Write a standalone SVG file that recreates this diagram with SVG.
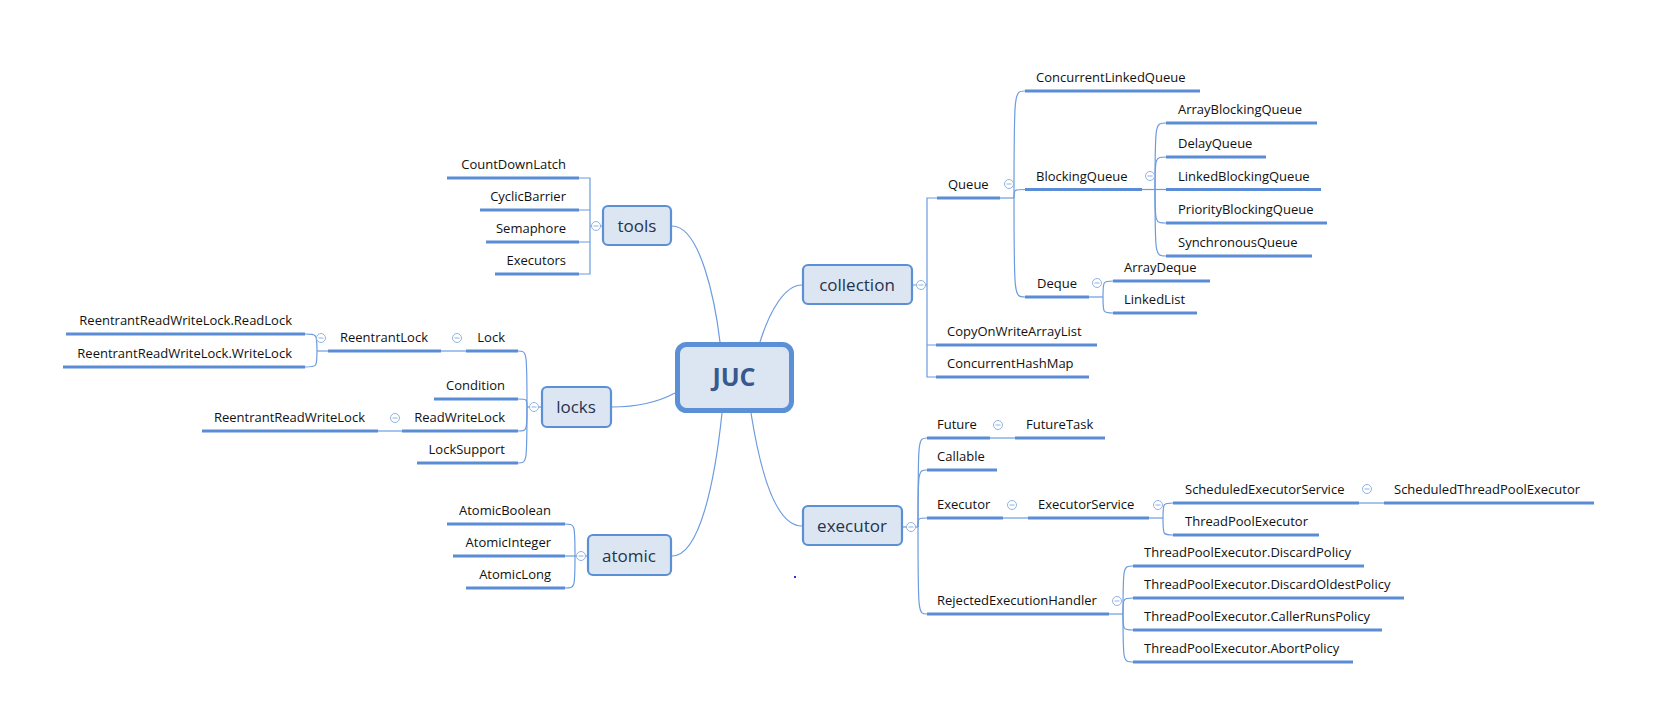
<svg xmlns="http://www.w3.org/2000/svg" xmlns:xlink="http://www.w3.org/1999/xlink" width="1665" height="712" viewBox="0 0 1665 712">
<defs>
<style>
.u{stroke:#5a8dd6;stroke-width:3;fill:none}
.cn path{stroke:#6b9be0;stroke-width:1.2;fill:none}
.t{font-family:"Open Sans","Liberation Sans",sans-serif;font-size:13px;fill:#111}
.e{text-anchor:end}
.box{fill:#dce6f2;stroke:#5b8fd6;stroke-width:2.2}
.bt{font-family:"Open Sans","Liberation Sans",sans-serif;font-size:17px;fill:#25334d;text-anchor:middle}
</style>
<g id="col"><circle r="4.5" fill="#fff" stroke="#8fb3e2" stroke-width="1"/><line x1="-2.5" x2="2.5" y1="0" y2="0" stroke="#8fb3e2" stroke-width="1"/></g>
</defs>
<rect width="1665" height="712" fill="#fff"/>

<g id="connectors" class="cn">
<!-- root -->
<path d="M672 226 C700 226 715 300 720 342"/>
<path d="M760 342 C770 310 785 285 802 285"/>
<path d="M612 407 C640 407 660 401 675 393"/>
<path d="M722 413 C715 480 700 556 672 556"/>
<path d="M751 413 C760 470 775 526 802 526"/>
<!-- tools -->
<path d="M602 226 H590 M579 178 H590 V274 H579 M579 210 H590 M579 242 H590"/>
<!-- locks -->
<path d="M541 407 H527"/>
<path d="M527 407 C527 351 527 351 518 351"/>
<path d="M527 407 C527 399 527 399 518 399"/>
<path d="M527 407 C527 431 527 431 518 431"/>
<path d="M527 407 C527 463 527 463 518 463"/>
<path d="M466 351 H441"/>
<path d="M328 351 H317"/>
<path d="M317 351 C317 334 317 334 305 334"/>
<path d="M317 351 C317 367 317 367 305 367"/>
<path d="M402 431 H378"/>
<!-- atomic -->
<path d="M587 556 H575"/>
<path d="M575 556 C575 524 575 524 565 524"/>
<path d="M575 556 H565"/>
<path d="M575 556 C575 588 575 588 565 588"/>
<!-- collection -->
<path d="M913 285 H927 M937 198 H927 V377 H936 M927 345 H936"/>
<path d="M1000 198 H1014"/>
<path d="M1014 198 C1014 91 1014 91 1025 91"/>
<path d="M1014 198 C1014 189.5 1014 189.5 1025 189.5"/>
<path d="M1014 198 C1014 297 1014 297 1025 297"/>
<path d="M1142 189.5 H1155"/>
<path d="M1155 189.5 C1155 123 1155 123 1166 123"/>
<path d="M1155 189.5 C1155 157 1155 157 1166 157"/>
<path d="M1155 189.5 H1166"/>
<path d="M1155 189.5 C1155 223 1155 223 1166 223"/>
<path d="M1155 189.5 C1155 256 1155 256 1166 256"/>
<path d="M1089 297 H1103"/>
<path d="M1103 297 C1103 281 1103 281 1113 281"/>
<path d="M1103 297 C1103 313 1103 313 1113 313"/>
<!-- executor -->
<path d="M903 527 H918"/>
<path d="M918 527 C918 438 918 438 927 438"/>
<path d="M918 527 C918 470 918 470 927 470"/>
<path d="M918 527 C918 518 918 518 927 518"/>
<path d="M918 527 C918 614 918 614 927 614"/>
<path d="M990 438 H1015"/>
<path d="M1003 518 H1028"/>
<path d="M1149 518 H1163"/>
<path d="M1163 518 C1163 503 1163 503 1173 503"/>
<path d="M1163 518 C1163 535 1163 535 1173 535"/>
<path d="M1359 503 H1384"/>
<path d="M1109 614 H1123"/>
<path d="M1123 614 C1123 566 1123 566 1133 566"/>
<path d="M1123 614 C1123 598 1123 598 1133 598"/>
<path d="M1123 614 C1123 630 1123 630 1133 630"/>
<path d="M1123 614 C1123 662 1123 662 1133 662"/>
</g>

<g id="JUC"><rect x="677.5" y="344.5" width="114" height="66" rx="9" fill="#dce6f2" stroke="#5b8fd6" stroke-width="5"/><text x="734" y="386" font-family="'Open Sans','Liberation Sans',sans-serif" font-size="25" font-weight="bold" fill="#37598e" text-anchor="middle">JUC</text></g>

<g id="tools"><rect class="box" x="603" y="206" width="68" height="39" rx="5"/><text class="bt" x="637" y="232">tools</text><use xlink:href="#col" x="596" y="226"/></g>
<g id="locks"><rect class="box" x="542" y="387" width="69" height="40" rx="5"/><text class="bt" x="576" y="413">locks</text><use xlink:href="#col" x="534" y="407"/></g>
<g id="atomic"><rect class="box" x="588" y="535" width="83" height="40" rx="5"/><text class="bt" x="629" y="562">atomic</text><use xlink:href="#col" x="581" y="556"/></g>
<g id="collection"><rect class="box" x="803" y="265" width="109" height="39" rx="5"/><text class="bt" x="857" y="291">collection</text><use xlink:href="#col" x="921" y="285"/></g>
<g id="executor"><rect class="box" x="803" y="506" width="99" height="39" rx="5"/><text class="bt" x="852" y="532">executor</text><use xlink:href="#col" x="911" y="527"/></g>

<!-- tools children -->
<g id="CountDownLatch"><line class="u" x1="447" x2="579" y1="178" y2="178"/><text class="t e" x="566" y="169">CountDownLatch</text></g>
<g id="CyclicBarrier"><line class="u" x1="480" x2="579" y1="210" y2="210"/><text class="t e" x="566" y="201">CyclicBarrier</text></g>
<g id="Semaphore"><line class="u" x1="486" x2="579" y1="242" y2="242"/><text class="t e" x="566" y="233">Semaphore</text></g>
<g id="Executors"><line class="u" x1="495" x2="579" y1="274" y2="274"/><text class="t e" x="566" y="265">Executors</text></g>

<!-- locks children -->
<g id="Lock"><line class="u" x1="466" x2="518" y1="351" y2="351"/><text class="t e" x="505" y="342">Lock</text><use xlink:href="#col" x="457" y="338"/></g>
<g id="ReentrantLock"><line class="u" x1="328" x2="441" y1="351" y2="351"/><text class="t e" x="428" y="342">ReentrantLock</text><use xlink:href="#col" x="321" y="338"/></g>
<g id="ReadLock"><line class="u" x1="66" x2="305" y1="334" y2="334"/><text class="t e" x="292" y="325">ReentrantReadWriteLock.ReadLock</text></g>
<g id="WriteLock"><line class="u" x1="63" x2="305" y1="367" y2="367"/><text class="t e" x="292" y="358">ReentrantReadWriteLock.WriteLock</text></g>
<g id="Condition"><line class="u" x1="434" x2="518" y1="399" y2="399"/><text class="t e" x="505" y="390">Condition</text></g>
<g id="ReadWriteLock"><line class="u" x1="402" x2="518" y1="431" y2="431"/><text class="t e" x="505" y="422">ReadWriteLock</text><use xlink:href="#col" x="395" y="418"/></g>
<g id="ReentrantReadWriteLock"><line class="u" x1="202" x2="378" y1="431" y2="431"/><text class="t e" x="365" y="422">ReentrantReadWriteLock</text></g>
<g id="LockSupport"><line class="u" x1="417" x2="518" y1="463" y2="463"/><text class="t e" x="505" y="454">LockSupport</text></g>

<!-- atomic children -->
<g id="AtomicBoolean"><line class="u" x1="447" x2="565" y1="524" y2="524"/><text class="t e" x="551" y="515">AtomicBoolean</text></g>
<g id="AtomicInteger"><line class="u" x1="453" x2="565" y1="556" y2="556"/><text class="t e" x="551" y="547">AtomicInteger</text></g>
<g id="AtomicLong"><line class="u" x1="466" x2="565" y1="588" y2="588"/><text class="t e" x="551" y="579">AtomicLong</text></g>

<!-- collection children -->
<g id="Queue"><line class="u" x1="937" x2="1000" y1="198" y2="198"/><text class="t" x="948" y="189">Queue</text><use xlink:href="#col" x="1009" y="184"/></g>
<g id="ConcurrentLinkedQueue"><line class="u" x1="1025" x2="1200" y1="91" y2="91"/><text class="t" x="1036" y="82">ConcurrentLinkedQueue</text></g>
<g id="BlockingQueue"><line class="u" x1="1025" x2="1142" y1="189.5" y2="189.5"/><text class="t" x="1036" y="180.5">BlockingQueue</text><use xlink:href="#col" x="1150" y="176"/></g>
<g id="ArrayBlockingQueue"><line class="u" x1="1166" x2="1317" y1="123" y2="123"/><text class="t" x="1178" y="114">ArrayBlockingQueue</text></g>
<g id="DelayQueue"><line class="u" x1="1166" x2="1266" y1="157" y2="157"/><text class="t" x="1178" y="148">DelayQueue</text></g>
<g id="LinkedBlockingQueue"><line class="u" x1="1166" x2="1321" y1="189.5" y2="189.5"/><text class="t" x="1178" y="180.5">LinkedBlockingQueue</text></g>
<g id="PriorityBlockingQueue"><line class="u" x1="1166" x2="1327" y1="223" y2="223"/><text class="t" x="1178" y="214">PriorityBlockingQueue</text></g>
<g id="SynchronousQueue"><line class="u" x1="1166" x2="1312" y1="256" y2="256"/><text class="t" x="1178" y="247">SynchronousQueue</text></g>
<g id="Deque"><line class="u" x1="1025" x2="1089" y1="297" y2="297"/><text class="t" x="1037" y="288">Deque</text><use xlink:href="#col" x="1097" y="283"/></g>
<g id="ArrayDeque"><line class="u" x1="1113" x2="1210" y1="281" y2="281"/><text class="t" x="1124" y="272">ArrayDeque</text></g>
<g id="LinkedList"><line class="u" x1="1113" x2="1197" y1="313" y2="313"/><text class="t" x="1124" y="304">LinkedList</text></g>
<g id="CopyOnWriteArrayList"><line class="u" x1="936" x2="1097" y1="345" y2="345"/><text class="t" x="947" y="336">CopyOnWriteArrayList</text></g>
<g id="ConcurrentHashMap"><line class="u" x1="936" x2="1089" y1="377" y2="377"/><text class="t" x="947" y="368">ConcurrentHashMap</text></g>

<!-- executor children -->
<g id="Future"><line class="u" x1="927" x2="990" y1="438" y2="438"/><text class="t" x="937" y="429">Future</text><use xlink:href="#col" x="998" y="425"/></g>
<g id="FutureTask"><line class="u" x1="1015" x2="1105" y1="438" y2="438"/><text class="t" x="1026" y="429">FutureTask</text></g>
<g id="Callable"><line class="u" x1="927" x2="997" y1="470" y2="470"/><text class="t" x="937" y="461">Callable</text></g>
<g id="Executor"><line class="u" x1="927" x2="1003" y1="518" y2="518"/><text class="t" x="937" y="509">Executor</text><use xlink:href="#col" x="1012" y="505"/></g>
<g id="ExecutorService"><line class="u" x1="1028" x2="1149" y1="518" y2="518"/><text class="t" x="1038" y="509">ExecutorService</text><use xlink:href="#col" x="1158" y="505"/></g>
<g id="ScheduledExecutorService"><line class="u" x1="1173" x2="1359" y1="503" y2="503"/><text class="t" x="1185" y="494">ScheduledExecutorService</text><use xlink:href="#col" x="1367" y="489"/></g>
<g id="ScheduledThreadPoolExecutor"><line class="u" x1="1384" x2="1594" y1="503" y2="503"/><text class="t" x="1394" y="494">ScheduledThreadPoolExecutor</text></g>
<g id="ThreadPoolExecutor"><line class="u" x1="1173" x2="1319" y1="535" y2="535"/><text class="t" x="1185" y="526">ThreadPoolExecutor</text></g>
<g id="RejectedExecutionHandler"><line class="u" x1="927" x2="1109" y1="614" y2="614"/><text class="t" x="937" y="605">RejectedExecutionHandler</text><use xlink:href="#col" x="1117" y="601"/></g>
<g id="DiscardPolicy"><line class="u" x1="1133" x2="1364" y1="566" y2="566"/><text class="t" x="1144" y="557">ThreadPoolExecutor.DiscardPolicy</text></g>
<g id="DiscardOldestPolicy"><line class="u" x1="1133" x2="1404" y1="598" y2="598"/><text class="t" x="1144" y="589">ThreadPoolExecutor.DiscardOldestPolicy</text></g>
<g id="CallerRunsPolicy"><line class="u" x1="1133" x2="1382" y1="630" y2="630"/><text class="t" x="1144" y="621">ThreadPoolExecutor.CallerRunsPolicy</text></g>
<g id="AbortPolicy"><line class="u" x1="1133" x2="1353" y1="662" y2="662"/><text class="t" x="1144" y="653">ThreadPoolExecutor.AbortPolicy</text></g>

<rect x="794" y="576" width="2" height="2" fill="#3030e0"/>
</svg>
